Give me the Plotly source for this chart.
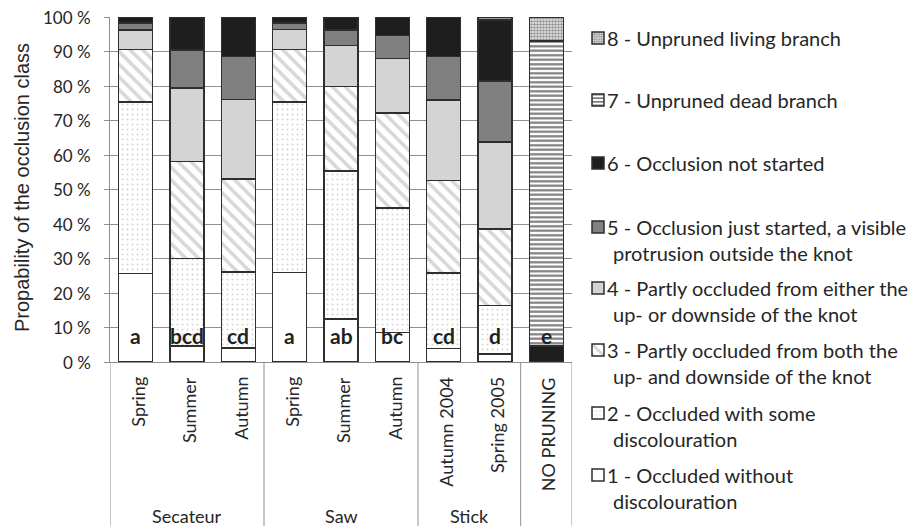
import plotly.graph_objects as go

# ---------------- data ----------------
groups = ["Secateur", "Secateur", "Secateur", "Saw", "Saw", "Saw", "Stick", "Stick", ""]
treatments = ["Spring", "Summer", "Autumn", "Spring", "Summer", "Autumn",
              "Autumn 2004", "Spring 2005", "NO PRUNING"]
letters = ["a", "bcd", "cd", "a", "ab", "bc", "cd", "d", "e"]

c1 = [25.6, 4.7, 4.0, 25.9, 12.4, 8.6, 3.9, 2.3, None]
c2 = [49.7, 25.3, 22.1, 49.4, 42.9, 36.0, 21.9, 14.1, None]
c3 = [15.3, 28.1, 26.9, 15.3, 24.5, 27.6, 26.8, 22.2, None]
c4 = [5.6, 21.3, 23.1, 5.8, 11.9, 15.7, 23.3, 25.2, None]
c5 = [2.1, 11.0, 12.5, 1.9, 4.6, 6.7, 12.6, 17.6, None]
c6 = [1.7, 9.6, 11.4, 1.7, 3.7, 5.4, 11.5, 17.7, 4.7]
c7 = [None, None, None, None, None, None, None, 0.7, 88.3]
c8 = [None, None, None, None, None, None, None, None, 7.0]

class_labels = {
    1: ["1 - Occluded without", "discolouration"],
    2: ["2 - Occluded with some", "discolouration"],
    3: ["3 - Partly occluded from both the", "up- and downside of the knot"],
    4: ["4 - Partly occluded from either the", "up- or downside of the knot"],
    5: ["5 - Occlusion just started, a visible", "protrusion outside the knot"],
    6: ["6 - Occlusion not started"],
    7: ["7 - Unpruned dead branch"],
    8: ["8 - Unpruned living branch"],
}
y_ticks = [0, 10, 20, 30, 40, 50, 60, 70, 80, 90, 100]
y_tick_text = [f"{v} %" for v in y_ticks]
y_title = "Propability of the occlusion class"

# ---------------- styling ----------------
W, H = 917, 526
L, R, T, B = 110, 572, 17, 362
FONT = "Lato"
GRID = "#8f8f8f"
EDGE = "#2e2e2e"
TXT = "#262626"

keys = [f"{g}|{t}" for g, t in zip(groups, treatments)]

styles = {
    1: dict(color="white"),
    2: dict(color="white", pattern=dict(shape=".", fgcolor="#a8a8a8", bgcolor="white",
                                          fillmode="overlay", size=5, solidity=0.12)),
    3: dict(color="white", pattern=dict(shape="\\", fgcolor="#b0b0b0", bgcolor="white",
                                          fillmode="overlay", size=9, solidity=0.4)),
    4: dict(color="#d4d4d4"),
    5: dict(color="#808080"),
    6: dict(color="#1e1e1e"),
    7: dict(color="white", pattern=dict(shape="-", fgcolor="#000000", bgcolor="white",
                                          fillmode="overlay", size=4.5, solidity=0.5)),
    8: dict(color="white", pattern=dict(shape=".", fgcolor="#333333", bgcolor="#f2f2f2",
                                          fillmode="overlay", size=3, solidity=0.6)),
}
series = {1: c1, 2: c2, 3: c3, 4: c4, 5: c5, 6: c6, 7: c7, 8: c8}

fig = go.Figure()
legend_line1_px = {8: 38, 7: 100, 6: 163, 5: 227, 4: 288, 3: 350, 2: 413, 1: 475}


def py2paper(py):
    return (B - py) / (B - T)


def px2paper(px):
    return (px - L) / (R - L)


layout_legends = {}
for k in range(1, 9):
    lname = "legend" if k == 1 else f"legend{k}"
    fig.add_trace(go.Bar(
        x=keys, y=series[k], name=" ",
        marker=dict(line=dict(color=EDGE, width=1.5), **styles[k]),
        legend=lname, showlegend=True,
    ))
    layout_legends[lname] = dict(
        x=px2paper(578), xanchor="left",
        y=py2paper(legend_line1_px[k]), yanchor="middle",
        bgcolor="rgba(0,0,0,0)", font=dict(size=11, family=FONT),
        itemwidth=30, tracegroupgap=0,
    )

annotations = []
# legend texts
for k in range(1, 9):
    for i, line in enumerate(class_labels[k]):
        annotations.append(dict(
            text=line, xref="paper", yref="paper",
            x=px2paper(605 if i == 0 else 611), xanchor="left",
            y=py2paper(legend_line1_px[k] + 26 * i), yanchor="middle",
            showarrow=False, font=dict(family=FONT, size=20, color=TXT),
        ))

# y tick labels
for v, t in zip(y_ticks, y_tick_text):
    annotations.append(dict(
        text=t, xref="paper", yref="y", x=px2paper(93), y=v,
        xanchor="right", yanchor="middle", showarrow=False,
        font=dict(family=FONT, size=17, color=TXT),
    ))

# significance letters
for key, lt in zip(keys, letters):
    annotations.append(dict(
        text=f"<b>{lt}</b>", x=key, y=7.6, xref="x", yref="y",
        showarrow=False, font=dict(family=FONT, size=21, color="#222222"),
    ))

# category labels (rotated)
for key, t in zip(keys, treatments):
    annotations.append(dict(
        text=t, x=key, xref="x", xshift=2, y=py2paper(375), yref="paper",
        yanchor="top", textangle=-90, showarrow=False,
        font=dict(family=FONT, size=18, color=TXT),
    ))

# group labels
grp_names = []
for g in groups:
    if g and g not in grp_names:
        grp_names.append(g)
shapes = []
for g in grp_names:
    idx = [i for i, gg in enumerate(groups) if gg == g]
    annotations.append(dict(
        text=g, x=(idx[0] + idx[-1]) / 2, xref="x", y=py2paper(516), yref="paper",
        yanchor="middle", showarrow=False, font=dict(family=FONT, size=18, color=TXT),
    ))

# separators below axis
bounds = [-0.5]
for i in range(1, len(groups)):
    if groups[i] != groups[i - 1]:
        bounds.append(i - 0.5)
bounds.append(len(groups) - 0.5)
for bx in bounds:
    shapes.append(dict(type="line", xref="x", yref="paper", x0=bx, x1=bx,
                       y0=0, y1=py2paper(H), line=dict(color=GRID, width=1)))

# y-axis title
annotations.append(dict(
    text=y_title, xref="paper", yref="paper", x=px2paper(22), y=py2paper(188),
    textangle=-90, showarrow=False, xanchor="center", yanchor="middle",
    font=dict(family="Liberation Sans", size=20, color=TXT),
))

fig.update_layout(
    width=W, height=H,
    margin=dict(l=L, r=W - R, t=T, b=H - B, autoexpand=False),
    barmode="stack", bargap=0.34,
    plot_bgcolor="white", paper_bgcolor="white",
    annotations=annotations, shapes=shapes,
    **layout_legends,
)
fig.update_xaxes(
    type="category", categoryorder="array", categoryarray=keys,
    range=[-0.5, len(keys) - 0.5],
    showticklabels=False, ticks="", showgrid=False,
    showline=True, linecolor=GRID, linewidth=1, zeroline=False,
)
fig.update_yaxes(
    range=[0, 100], tickvals=y_ticks, showticklabels=False,
    showgrid=True, gridcolor=GRID, gridwidth=1,
    showline=True, linecolor=GRID, linewidth=1,
    ticks="outside", ticklen=5, tickcolor=GRID, zeroline=False,
)

fig.write_html("out.html")
